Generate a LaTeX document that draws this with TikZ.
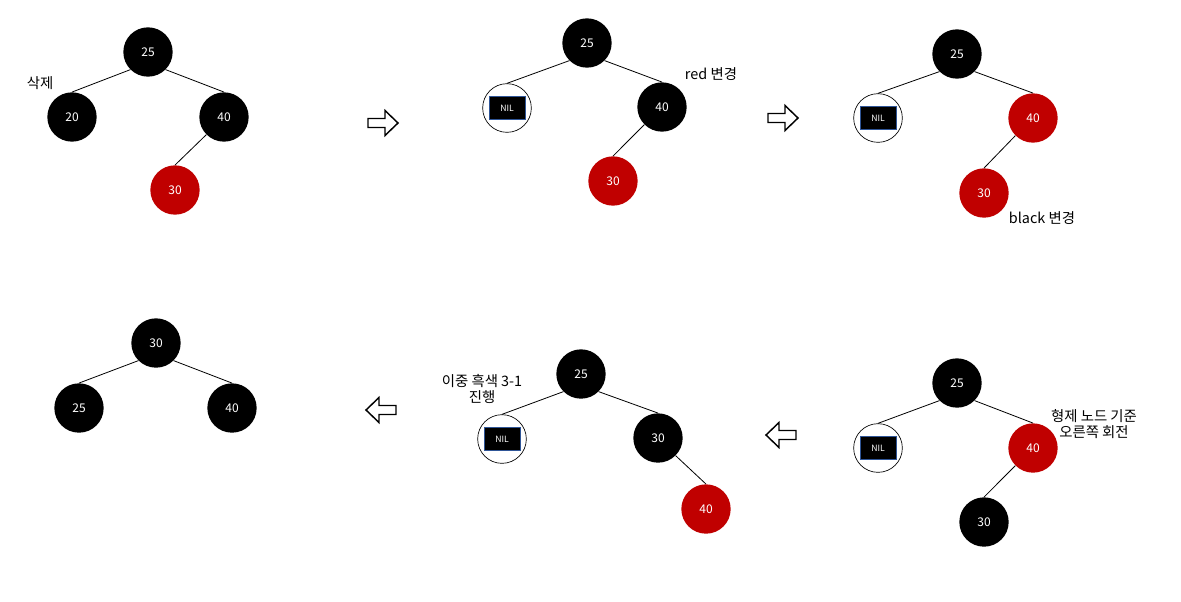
\documentclass[tikz,border=0pt]{standalone}
\usepackage{fontspec}
\setmainfont{Noto Sans CJK KR}
\definecolor{rbred}{HTML}{C00000}
\definecolor{nilblue}{HTML}{2F5597}

\tikzset{
  blacknode/.style={circle, fill=black, minimum size=37pt, inner sep=0pt,
    text=white, font=\fontsize{9}{10}\selectfont},
  rednode/.style={blacknode, fill=rbred},
  nilnode/.style={circle, draw=black, fill=white, line width=0.5pt, minimum size=36.5pt, inner sep=0pt},
  nilbox/.style={rectangle, fill=black, draw=nilblue, line width=0.7pt, minimum width=27pt,
    minimum height=17pt, inner sep=0pt, text=white, font=\fontsize{6.5}{7}\selectfont},
  edge/.style={draw=black, line width=0.6pt},
  note/.style={font=\fontsize{10.8}{12.5}\selectfont, align=center},
  stepright/.pic={
    \draw[black, fill=white, line width=1.1pt, line join=miter]
      (-15,-4.5) -- (2,-4.5) -- (2,-12.5) -- (15,0) -- (2,12.5) -- (2,4.5) -- (-15,4.5) -- cycle;
  },
  stepleft/.pic={
    \draw[black, fill=white, line width=1.1pt, line join=miter]
      (15,-4.5) -- (-2,-4.5) -- (-2,-12.5) -- (-15,0) -- (-2,12.5) -- (-2,4.5) -- (15,4.5) -- cycle;
  }
}

\begin{document}
\begin{tikzpicture}[x=0.75pt, y=-0.75pt]

  % Canvas
  \useasboundingbox (0,0) rectangle (1181,601);
  \fill[white] (0,0) rectangle (1181,601);

  % Panel 1: delete 20
  \node[blacknode] (a25) at (148,52) {25};
  \node[blacknode] (a20) at (72,117) {20};
  \node[blacknode] (a40) at (224,117) {40};
  \node[rednode]   (a30) at (175,190) {30};
  \draw[edge] (a25.south west) -- (a20.north);
  \draw[edge] (a25.south east) -- (a40.north);
  \draw[edge] (a40.south west) -- (a30.north);
  \node[note] (adel) at (40,83) {삭제};

  \pic at (383,123) {stepright};

  % Panel 2: NIL, sibling to red
  \node[blacknode] (b25) at (587,43) {25};
  \node[nilnode]   (bnil) at (507,108) {};
  \node[nilbox]    (bnilbox) at (bnil) {NIL};
  \node[blacknode] (b40) at (662,107) {40};
  \node[rednode]   (b30) at (613,181) {30};
  \draw[edge] (b25.south west) -- (bnil.north);
  \draw[edge] (b25.south east) -- (b40.north);
  \draw[edge] (b40.south west) -- (b30.north);
  \node[note] (bred) at (711,74) {red 변경};

  \pic at (783,118) {stepright};

  % Panel 3: nephew to black
  \node[blacknode] (c25) at (957,54) {25};
  \node[nilnode]   (cnil) at (878,118) {};
  \node[nilbox]    (cnilbox) at (cnil) {NIL};
  \node[rednode]   (c40) at (1033,118) {40};
  \node[rednode]   (c30) at (984,193) {30};
  \draw[edge] (c25.south west) -- (cnil.north);
  \draw[edge] (c25.south east) -- (c40.north);
  \draw[edge] (c40.south west) -- (c30.north);
  \node[note] (cblack) at (1042,218) {black 변경};

  % Panel 4: right rotation around sibling
  \node[blacknode] (d25) at (957,383) {25};
  \node[nilnode]   (dnil) at (878,448) {};
  \node[nilbox]    (dnilbox) at (dnil) {NIL};
  \node[rednode]   (d40) at (1033,448) {40};
  \node[blacknode] (d30) at (984,522) {30};
  \draw[edge] (d25.south west) -- (dnil.north);
  \draw[edge] (d25.south east) -- (d40.north);
  \draw[edge] (d40.south west) -- (d30.north);
  \node[note] (drot) at (1094,424) {형제 노드 기준\\오른쪽 회전};

  \pic at (781,435) {stepleft};

  % Panel 5: double black case 3-1
  \node[blacknode] (e25) at (581,374) {25};
  \node[nilnode]   (enil) at (502,439) {};
  \node[nilbox]    (enilbox) at (enil) {NIL};
  \node[blacknode] (e30) at (658,438) {30};
  \node[rednode]   (e40) at (706,509) {40};
  \draw[edge] (e25.south west) -- (enil.north);
  \draw[edge] (e25.south east) -- (e30.north);
  \draw[edge] (e30.south east) -- (e40.north);
  \node[note] (edbl) at (482,389) {이중 흑색 3-1\\진행};

  \pic at (381,410) {stepleft};

  % Panel 6: result
  \node[blacknode] (f30) at (156,343) {30};
  \node[blacknode] (f25) at (79,408) {25};
  \node[blacknode] (f40) at (232,408) {40};
  \draw[edge] (f30.south west) -- (f25.north);
  \draw[edge] (f30.south east) -- (f40.north);

\end{tikzpicture}
\end{document}
